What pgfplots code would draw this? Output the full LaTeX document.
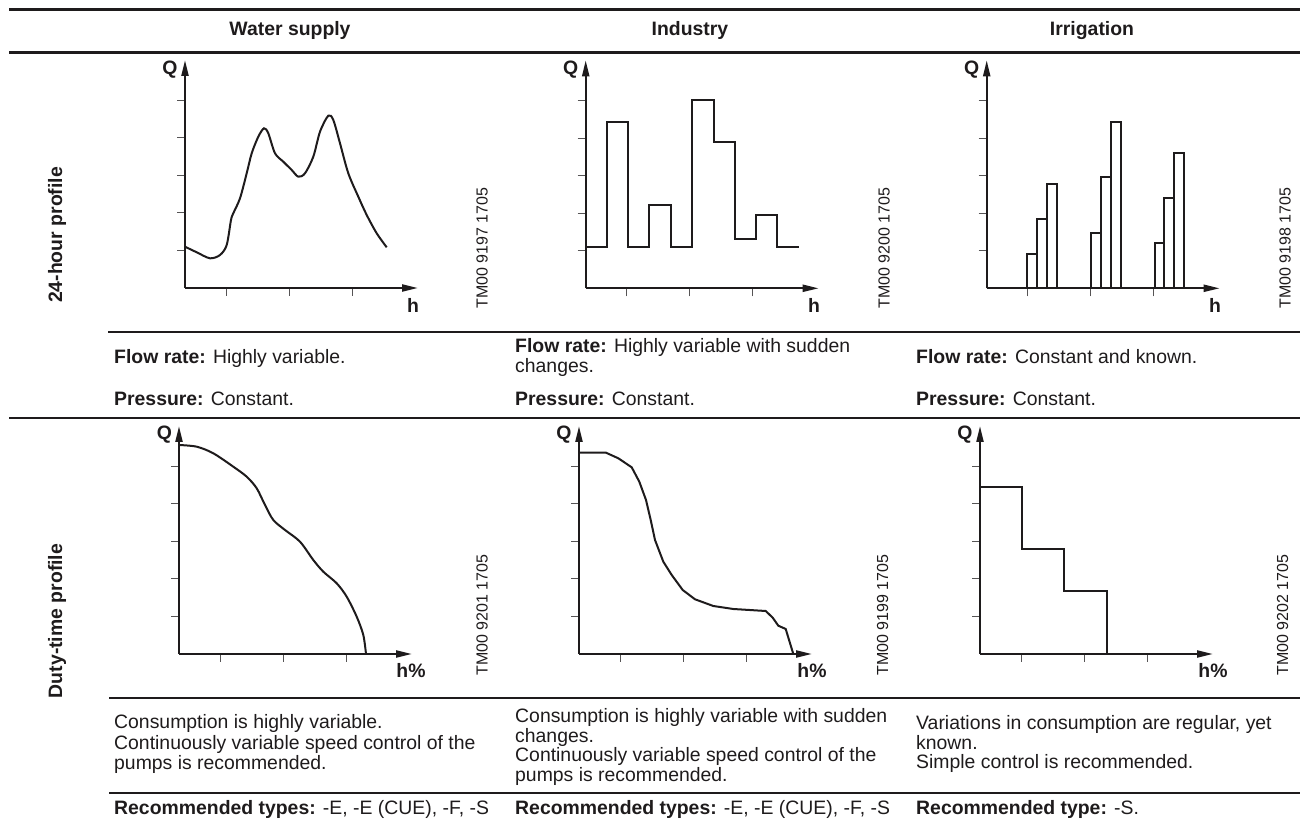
\documentclass[border=0pt]{standalone}
\usepackage{pgfplots}
\pgfplotsset{compat=1.18}
\usetikzlibrary{arrows.meta}
\usepackage{fontspec}
\setmainfont{Liberation Sans}
\definecolor{ink}{RGB}{30,27,28}
\newcommand\fs{\fontsize{19.4pt}{20.5pt}\selectfont}
\newcommand\tmfs{\fontsize{16pt}{18pt}\selectfont}
\pgfplotsset{prof/.style={scale only axis, width=233pt, height=228pt,
  xmin=0, xmax=233, ymin=0, ymax=228,
  axis lines=left,
  axis line style={ink, line width=2.1pt, -{Triangle[length=16pt,width=7pt]}},
  tick align=outside, major tick length=8pt,
  major tick style={line width=1pt, ink!75},
  xtick={41,104,167}, ytick={37.5,75,112.5,150,187.5},
  xticklabels={}, yticklabels={},
  clip=false, anchor=south west},
  curve/.style={ink, line width=2pt, mark=none}}
\begin{document}
\begin{tikzpicture}[every node/.style={inner sep=0pt, font=\fs, text=ink}]
\useasboundingbox (0pt,0pt) rectangle (1300pt,821pt);
% table rules
\draw[ink, line width=3pt] (9pt,811pt) -- (1300pt,811pt);
\draw[ink, line width=2.8pt] (9pt,768.5pt) -- (1300pt,768.5pt);
\draw[ink, line width=2.5pt] (108pt,489pt) -- (1300pt,489pt);
\draw[ink, line width=2.7pt] (9pt,403pt) -- (1300pt,403pt);
\draw[ink, line width=2.6pt] (109pt,123pt) -- (1300pt,123pt);
\draw[ink, line width=2.6pt] (109pt,28pt) -- (1300pt,28pt);
% headers
\node[anchor=base] at (290pt,785pt) {\bfseries Water supply};
\node[anchor=base] at (690pt,785pt) {\bfseries Industry};
\node[anchor=base] at (1092pt,785pt) {\bfseries Irrigation};
% row labels
\node[rotate=90] at (57pt,586pt) {\bfseries 24-hour profile};
\node[rotate=90] at (57pt,200pt) {\bfseries Duty-time profile};
% TM codes
\node[rotate=90, font=\tmfs] at (482pt,573pt) {TM00 9197 1705};
\node[rotate=90, font=\tmfs] at (884pt,573pt) {TM00 9200 1705};
\node[rotate=90, font=\tmfs] at (1285pt,573pt) {TM00 9198 1705};
\node[rotate=90, font=\tmfs] at (482pt,206pt) {TM00 9201 1705};
\node[rotate=90, font=\tmfs] at (882.5pt,206pt) {TM00 9199 1705};
\node[rotate=90, font=\tmfs] at (1282.5pt,206pt) {TM00 9202 1705};
% axis letters
\node at (170pt,751pt) {\bfseries Q};
\node at (570.7pt,751pt) {\bfseries Q};
\node at (971.7pt,751pt) {\bfseries Q};
\node at (413pt,516pt) {\bfseries h};
\node at (814pt,516pt) {\bfseries h};
\node at (1215pt,516pt) {\bfseries h};
\node at (164.5pt,386pt) {\bfseries Q};
\node at (564pt,386pt) {\bfseries Q};
\node at (965pt,386pt) {\bfseries Q};
\node at (411pt,150pt) {\bfseries h\%};
\node at (812pt,150pt) {\bfseries h\%};
\node at (1213pt,150pt) {\bfseries h\%};
% flow / pressure texts
\node[anchor=base west] at (114pt,457pt) {\textbf{Flow rate:} Highly variable.};
\node[anchor=base west] at (114pt,415pt) {\textbf{Pressure:} Constant.};
\node[anchor=base west] at (515pt,468pt) {\textbf{Flow rate:} Highly variable with sudden};
\node[anchor=base west] at (515pt,448pt) {changes.};
\node[anchor=base west] at (515pt,415pt) {\textbf{Pressure:} Constant.};
\node[anchor=base west] at (916pt,457pt) {\textbf{Flow rate:} Constant and known.};
\node[anchor=base west] at (916pt,415pt) {\textbf{Pressure:} Constant.};
% consumption texts
\node[anchor=base west] at (114pt,92pt) {Consumption is highly variable.};
\node[anchor=base west] at (114pt,71pt) {Continuously variable speed control of the};
\node[anchor=base west] at (114pt,51pt) {pumps is recommended.};
\node[anchor=base west] at (515pt,98pt) {Consumption is highly variable with sudden};
\node[anchor=base west] at (515pt,78pt) {changes.};
\node[anchor=base west] at (515pt,59pt) {Continuously variable speed control of the};
\node[anchor=base west] at (515pt,39pt) {pumps is recommended.};
\node[anchor=base west] at (916pt,91pt) {Variations in consumption are regular, yet};
\node[anchor=base west] at (916pt,71pt) {known.};
\node[anchor=base west] at (916pt,52pt) {Simple control is recommended.};
% recommended
\node[anchor=base west] at (114pt,6pt) {\textbf{Recommended types:} -E, -E (CUE), -F, -S};
\node[anchor=base west] at (515pt,6pt) {\textbf{Recommended types:} -E, -E (CUE), -F, -S};
\node[anchor=base west] at (916pt,6pt) {\textbf{Recommended type:} -S.};

% ---- Plot 1: water supply 24h
\begin{axis}[prof, at={(185pt,533pt)}]
\addplot[curve, smooth, tension=0.5] coordinates {
(0,41.3) (11.7,35.7) (25,29.7) (35,33) (41.7,43) (46,68) (48.3,74.7) (55,89.7)
(61.7,114.7) (66.7,134.7) (73.3,151.3) (79,159.7) (83.3,154.7) (90,134.7)
(98.3,126.3) (106.7,118) (113.3,111.3) (120,114.7) (128.3,131.3) (135,156.3)
(143.3,172.3) (148.3,168) (155,144.7) (163.3,114.7) (173.3,91.3) (181.7,73)
(191.7,54.7) (201.7,40.7)};
\end{axis}
% ---- Plot 2: industry 24h
\begin{axis}[prof, at={(585.7pt,532.7pt)}]
\addplot[curve, const plot] coordinates {
(0,41) (21.7,166.7) (42.7,41) (63.7,83.3) (85,41) (106.7,188.3) (128.3,146)
(149.3,49.3) (170.3,73.3) (191,41) (213.3,41)};
\end{axis}
% ---- Plot 3: irrigation 24h
\begin{axis}[prof, at={(986.7pt,532.7pt)}]
\addplot[curve] coordinates {(40.7,0) (40.7,34.3) (50.3,34.3) (50.3,0)};
\addplot[curve] coordinates {(50.3,0) (50.3,69.3) (60.3,69.3) (60.3,0)};
\addplot[curve] coordinates {(60.3,0) (60.3,104.3) (70.3,104.3) (70.3,0)};
\addplot[curve] coordinates {(104,0) (104,55.7) (114,55.7) (114,0)};
\addplot[curve] coordinates {(114,0) (114,111) (124,111) (124,0)};
\addplot[curve] coordinates {(124,0) (124,166.3) (134,166.3) (134,0)};
\addplot[curve] coordinates {(168,0) (168,45) (177.7,45) (177.7,0)};
\addplot[curve] coordinates {(177.7,0) (177.7,90) (187.7,90) (187.7,0)};
\addplot[curve] coordinates {(187.7,0) (187.7,135.7) (197.7,135.7) (197.7,0)};
\end{axis}
% ---- Plot 4: water supply duty
\begin{axis}[prof, at={(179pt,167pt)}]
\addplot[curve, smooth, tension=0.5] coordinates {
(0,209) (17.7,207.3) (34.3,200.7) (54.3,187.3) (67.7,177.3) (77.7,165.7)
(86,149) (94.3,134) (106,124) (121,112.3) (134.3,94) (144.3,82.3)
(157.7,70.7) (167.7,57.3) (177.7,37.3) (184.3,19) (187,0)};
\end{axis}
% ---- Plot 5: industry duty
\begin{axis}[prof, at={(579pt,167pt)}]
\addplot[curve] coordinates {
(0,201.3) (27,201.3) (39.3,195.7) (52.7,186.7) (60.3,172.3) (67,154)
(71.7,134) (76,114) (84.3,92.3) (92.7,79) (103.7,64) (116,54.7) (134.3,48)
(154.3,45) (186.7,43) (193.7,36.3) (199.3,28.3) (206.7,25) (214.3,0)};
\end{axis}
% ---- Plot 6: irrigation duty
\begin{axis}[prof, at={(980pt,167pt)}]
\addplot[curve] coordinates {
(0,167.3) (42.3,167.3) (42.3,105) (84.3,105) (84.3,62.7) (126.7,62.7) (126.7,0)};
\end{axis}
\end{tikzpicture}
\end{document}
